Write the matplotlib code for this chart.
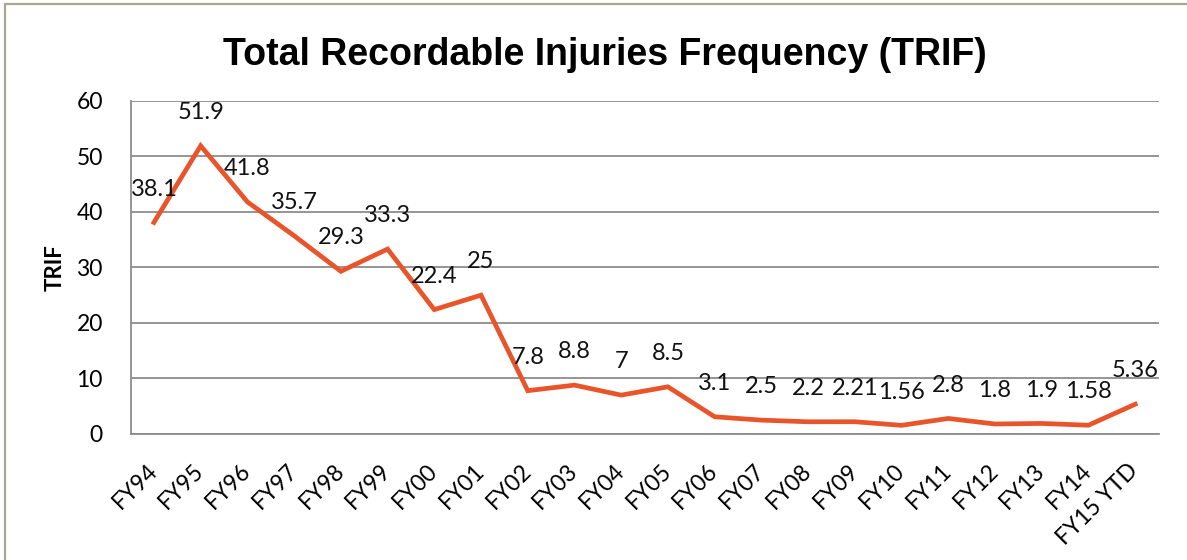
import matplotlib.pyplot as plt
from matplotlib.patches import Rectangle

# TRIF by fiscal year
years = ['FY94', 'FY95', 'FY96', 'FY97', 'FY98', 'FY99', 'FY00', 'FY01',
         'FY02', 'FY03', 'FY04', 'FY05', 'FY06', 'FY07', 'FY08', 'FY09',
         'FY10', 'FY11', 'FY12', 'FY13', 'FY14', 'FY15 YTD']
trif = [38.1, 51.9, 41.8, 35.7, 29.3, 33.3, 22.4, 25,
        7.8, 8.8, 7, 8.5, 3.1, 2.5, 2.2, 2.21,
        1.56, 2.8, 1.8, 1.9, 1.58, 5.36]
point_labels = ['38.1', '51.9', '41.8', '35.7', '29.3', '33.3', '22.4', '25',
                '7.8', '8.8', '7', '8.5', '3.1', '2.5', '2.2', '2.21',
                '1.56', '2.8', '1.8', '1.9', '1.58', '5.36']
yticks = [0, 10, 20, 30, 40, 50, 60]

plt.rcParams['font.family'] = ['Lato', 'DejaVu Sans']

fig = plt.figure(figsize=(11.87, 5.6), dpi=100)
ax = fig.add_axes([0.110, 0.225, 0.866, 0.595])

x = list(range(len(years)))
ax.plot(x, trif, color='#E8552A', linewidth=3.4, solid_joinstyle='miter', zorder=3)

for xi, v, lab in zip(x, trif, point_labels):
    ax.annotate(lab, (xi, v), xytext=(0, 24), textcoords='offset points',
                ha='center', va='center', fontsize=17, color='#111111', zorder=4)

ax.set_xlim(-0.5, len(years) - 0.5)
ax.set_ylim(0, 60)
ax.set_yticks(yticks)
ax.yaxis.grid(True, color='#8c8c8c', linewidth=1.3)
ax.set_axisbelow(True)

ax.set_xticks(x)
ax.set_xticklabels(years, rotation=45, ha='right', va='center',
                   rotation_mode='anchor', fontsize=16.5)
ax.tick_params(axis='x', length=0, pad=24)
ax.tick_params(axis='y', length=0, pad=20, labelsize=16.5)

for side in ['top', 'right']:
    ax.spines[side].set_visible(False)
for side in ['left', 'bottom']:
    ax.spines[side].set_color('#8c8c8c')
    ax.spines[side].set_linewidth(1.3)

ax.set_ylabel('TRIF', fontsize=16, fontweight='bold', labelpad=8)

fig.text(0.51, 0.902, 'Total Recordable Injuries Frequency (TRIF)',
         family='Liberation Sans', fontsize=27, fontweight='bold',
         ha='center', va='center')

# outer chart frame, only top and left edges visible
fig.patches.append(Rectangle((0.0045, -0.1), 1.2, 1.093, transform=fig.transFigure,
                             fill=False, edgecolor='#a8a890', linewidth=1.6))

fig.savefig('out.png', dpi=100)
